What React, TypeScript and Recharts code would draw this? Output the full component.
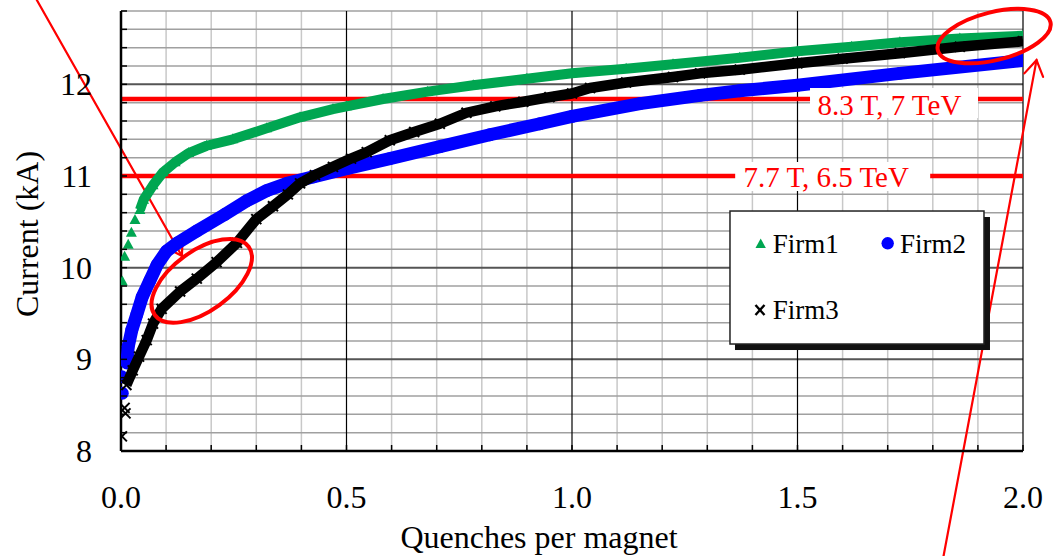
import React from 'react';
import {
  ScatterChart,
  Scatter,
  XAxis,
  YAxis,
  CartesianGrid,
  ReferenceLine,
  ReferenceDot,
} from 'recharts';

// ---------- data ----------
const seriesNames = ['Firm1', 'Firm2', 'Firm3'];

const firm1StartX = [0.003, 0.008, 0.016, 0.023, 0.031];
const firm1StartY = [9.85, 10.12, 10.25, 10.38, 10.52];
const firm1X = [0.042, 0.05, 0.071, 0.093, 0.12, 0.15, 0.19, 0.248, 0.323, 0.397, 0.47, 0.5, 0.581, 0.68, 0.781, 0.9, 1.0, 1.12, 1.224, 1.372, 1.5, 1.62, 1.727, 1.86, 2.0];
const firm1Y = [10.63, 10.74, 10.9, 11.04, 11.15, 11.25, 11.33, 11.4, 11.52, 11.64, 11.73, 11.76, 11.84, 11.92, 11.99, 12.06, 12.12, 12.17, 12.22, 12.29, 12.36, 12.41, 12.46, 12.5, 12.53];

const firm2StartX = [0.003, 0.002];
const firm2StartY = [8.63, 8.81];
const firm2X = [0.013, 0.016, 0.024, 0.035, 0.047, 0.064, 0.08, 0.101, 0.125, 0.168, 0.23, 0.279, 0.323, 0.368, 0.426, 0.5, 0.596, 0.707, 0.818, 0.929, 1.0, 1.151, 1.284, 1.372, 1.5, 1.727, 2.0];
const firm2Y = [8.96, 9.14, 9.32, 9.49, 9.68, 9.86, 10.03, 10.18, 10.27, 10.4, 10.58, 10.73, 10.84, 10.92, 10.99, 11.08, 11.19, 11.32, 11.45, 11.57, 11.65, 11.79, 11.88, 11.93, 11.99, 12.12, 12.26];

const firm3StartX = [0.002, 0.008, 0.01];
const firm3StartY = [8.16, 8.47, 8.41];
const firm3X = [0.012, 0.026, 0.04, 0.057, 0.071, 0.09, 0.131, 0.168, 0.212, 0.257, 0.3, 0.337, 0.37, 0.397, 0.43, 0.47, 0.51, 0.545, 0.596, 0.65, 0.707, 0.766, 0.83, 0.892, 0.95, 1.0, 1.04, 1.12, 1.224, 1.284, 1.372, 1.5, 1.6, 1.727, 1.86, 2.0];
const firm3Y = [8.72, 8.88, 9.03, 9.21, 9.39, 9.55, 9.74, 9.88, 10.06, 10.27, 10.53, 10.67, 10.8, 10.92, 11.01, 11.1, 11.19, 11.26, 11.39, 11.48, 11.57, 11.69, 11.76, 11.81, 11.86, 11.9, 11.96, 12.02, 12.08, 12.12, 12.16, 12.23, 12.28, 12.34, 12.41, 12.47];

const limitValues = [11.84, 11.0];
const limitLabels = ['8.3 T, 7 TeV', '7.7 T, 6.5 TeV'];

const xTicks = [0, 0.1, 0.2, 0.3, 0.4, 0.5, 0.6, 0.7, 0.8, 0.9, 1.0, 1.1, 1.2, 1.3, 1.4, 1.5, 1.6, 1.7, 1.8, 1.9, 2.0];
const xTickLabels = [0, 0.5, 1.0, 1.5, 2.0];
const yTicks = [8, 8.2, 8.4, 8.6, 8.8, 9, 9.2, 9.4, 9.6, 9.8, 10, 10.2, 10.4, 10.6, 10.8, 11, 11.2, 11.4, 11.6, 11.8, 12, 12.2, 12.4, 12.6, 12.8];
const yTickLabels = [8, 9, 10, 11, 12];

const xMinorGrid = [0.1, 0.2, 0.3, 0.4, 0.6, 0.7, 0.8, 0.9, 1.1, 1.2, 1.3, 1.4, 1.6, 1.7, 1.8, 1.9];
const xMajorGrid = [0.5, 1.0, 1.5, 2.0];
const yMinorGrid = [8.2, 8.4, 8.6, 8.8, 9.2, 9.4, 9.6, 9.8, 10.2, 10.4, 10.6, 10.8, 11.2, 11.4, 11.6, 11.8, 12.2, 12.4, 12.6, 12.8];
const yMajorGrid = [9, 10, 11, 12];

const toPoints = (xs: number[], ys: number[]) => xs.map((x, i) => ({ x, y: ys[i] }));

// ---------- styles ----------
const FONT = "'Liberation Serif', 'Times New Roman', serif";
const GREEN = '#00a651';
const BLUE = '#0000ff';
const BLACK = '#000000';
const RED = '#ff0000';

const near = (a: number, b: number) => Math.abs(a - b) < 1e-6;

const TriangleShape = (p: any) => {
  const { cx, cy } = p;
  if (cx == null || cy == null) return null;
  return <polygon points={`${cx},${cy - 6} ${cx - 5.5},${cy + 4} ${cx + 5.5},${cy + 4}`} fill={GREEN} />;
};
const CircleShape = (p: any) => {
  const { cx, cy } = p;
  if (cx == null || cy == null) return null;
  return <circle cx={cx} cy={cy} r={6.4} fill={BLUE} />;
};
const CrossShape = (p: any) => {
  const { cx, cy } = p;
  if (cx == null || cy == null) return null;
  const s = 5;
  return (
    <g stroke={BLACK} strokeWidth={2}>
      <line x1={cx - s} y1={cy - s} x2={cx + s} y2={cy + s} />
      <line x1={cx - s} y1={cy + s} x2={cx + s} y2={cy - s} />
    </g>
  );
};

const XTick = (p: any) => {
  const { x, y, payload } = p;
  const v = payload.value as number;
  const show = xTickLabels.some((t) => near(t, v));
  return (
    <g>
      <line x1={x} x2={x} y1={y} y2={y - 6} stroke="#000" strokeWidth={1.5} />
      {show && (
        <text x={x} y={y + 57} textAnchor="middle" fontSize={32} fontFamily={FONT} fill="#000">
          {v.toFixed(1)}
        </text>
      )}
    </g>
  );
};

const YTick = (p: any) => {
  const { x, y, payload } = p;
  const v = payload.value as number;
  const show = yTickLabels.some((t) => near(t, v));
  return (
    <g>
      <line x1={x} x2={x + 6} y1={y} y2={y} stroke="#000" strokeWidth={1.5} />
      {show && (
        <text x={x - 29} y={y + 11} textAnchor="end" fontSize={32} fontFamily={FONT} fill="#000">
          {String(v)}
        </text>
      )}
    </g>
  );
};

const XTitle = (p: any) => {
  const vb = p.viewBox || { x: 121, y: 451 };
  return (
    <text x={vb.x + 418} y={vb.y + 97} textAnchor="middle" fontSize={32} fontFamily={FONT} fill="#000">
      Quenches per magnet
    </text>
  );
};

const YTitle = (p: any) => {
  const vb = p.viewBox || { x: 61, y: 11, width: 60, height: 440 };
  const x = vb.x + (vb.width || 0) - 83;
  const y = vb.y + vb.height / 2 + 3;
  return (
    <text x={x} y={y} transform={`rotate(-90 ${x} ${y})`} textAnchor="middle" fontSize={32} fontFamily={FONT} fill="#000">
      Current (kA)
    </text>
  );
};

const ArrowShape = (p: any) => {
  const { x1, y1, x2, y2 } = p;
  if ([x1, y1, x2, y2].some((v) => v == null || isNaN(v))) return null;
  const ang = Math.atan2(y1 - y2, x1 - x2);
  const L = 18;
  const a = (32 * Math.PI) / 180;
  const w1x = x2 + L * Math.cos(ang + a);
  const w1y = y2 + L * Math.sin(ang + a);
  const w2x = x2 + L * Math.cos(ang - a);
  const w2y = y2 + L * Math.sin(ang - a);
  return (
    <g stroke={RED} strokeWidth={2.2} fill="none" strokeLinecap="round">
      <line x1={x1} y1={y1} x2={x2} y2={y2} />
      <polyline points={`${w1x},${w1y} ${x2},${y2} ${w2x},${w2y}`} />
    </g>
  );
};

const makeEllipse = (rx: number, ry: number, rot: number) => (p: any) => {
  const { cx, cy } = p;
  if (cx == null || cy == null) return null;
  return (
    <ellipse cx={cx} cy={cy} rx={rx} ry={ry} transform={`rotate(${rot} ${cx} ${cy})`} fill="none" stroke={RED} strokeWidth={4} />
  );
};

const makeLimitLabel = (text: string, halfW: number, top: number, bottom: number, dx: number, base: number) => (p: any) => {
  const { cx, cy } = p;
  if (cx == null || cy == null) return null;
  return (
    <g>
      <rect x={cx - halfW} y={cy - top} width={halfW * 2} height={top + bottom} fill="#ffffff" />
      <text x={cx + dx} y={cy + base} textAnchor="middle" fontSize={29} fontFamily={FONT} fill={RED}>
        {text}
      </text>
    </g>
  );
};

const LegendShape = (p: any) => {
  const { cx, cy } = p;
  if (cx == null || cy == null) return null;
  const x = cx;
  const y = cy;
  const w = 254;
  const h = 133;
  const fs = 27;
  return (
    <g>
      <rect x={x + 5} y={y + 6} width={w + 1} height={h} fill="#111" />
      <rect x={x} y={y} width={w} height={h} fill="#fff" stroke="#222" strokeWidth={1.5} />
      <polygon points={`${x + 30.7},${y + 27.5} ${x + 25.5},${y + 37} ${x + 35.9},${y + 37}`} fill={GREEN} />
      <text x={x + 42.7} y={y + 42.3} fontSize={fs} fontFamily={FONT} fill="#000">{seriesNames[0]}</text>
      <circle cx={x + 157.7} cy={y + 32.3} r={6.2} fill={BLUE} />
      <text x={x + 170} y={y + 42.3} fontSize={fs} fontFamily={FONT} fill="#000">{seriesNames[1]}</text>
      <g stroke="#000" strokeWidth={2.4}>
        <line x1={x + 25.5} y1={y + 94} x2={x + 34.5} y2={y + 104} />
        <line x1={x + 25.5} y1={y + 104} x2={x + 34.5} y2={y + 94} />
      </g>
      <text x={x + 42.7} y={y + 108} fontSize={fs} fontFamily={FONT} fill="#000">{seriesNames[2]}</text>
    </g>
  );
};

export default function App() {
  const f1s = toPoints(firm1StartX, firm1StartY);
  const f1 = toPoints(firm1X, firm1Y);
  const f2s = toPoints(firm2StartX, firm2StartY);
  const f2 = toPoints(firm2X, firm2Y);
  const f3s = toPoints(firm3StartX, firm3StartY);
  const f3 = toPoints(firm3X, firm3Y);

  // annotation anchors, in data units
  const arrow1 = [{ x: -0.189, y: 12.94 }, { x: 0.135, y: 10.127 }];
  const arrow2 = [{ x: 1.823, y: 6.833 }, { x: 2.03, y: 12.264 }];
  const ell1 = { x: 0.179, y: 9.856 };
  const ell2 = { x: 1.936, y: 12.526 };
  const legendAnchor = { x: 1.3503, y: 10.618 };
  const labelAnchors = [1.714, 1.578];

  return (
    <div style={{ position: 'absolute', left: 0, top: 0, width: 1054, height: 556, background: '#fff' }}>
      <ScatterChart width={1054} height={556} margin={{ top: 11, right: 31, bottom: 45, left: 61 }}>
        <CartesianGrid horizontal={false} verticalValues={xMinorGrid} stroke="#c8c8c8" strokeWidth={1.5} />
        <CartesianGrid vertical={false} horizontalValues={yMinorGrid} stroke="#a0a0a0" strokeWidth={1.5} />
        <CartesianGrid vertical={false} horizontalValues={yMajorGrid} stroke="#555555" strokeWidth={2} />
        <CartesianGrid horizontal={false} verticalValues={xMajorGrid} stroke="#000000" strokeWidth={1.2} />
        <XAxis
          type="number"
          dataKey="x"
          domain={[0, 2]}
          ticks={xTicks}
          interval={0}
          tick={XTick}
          tickLine={false}
          tickSize={0}
          tickMargin={0}
          height={60}
          axisLine={{ stroke: '#000', strokeWidth: 2.5 }}
          allowDataOverflow
          label={XTitle}
        />
        <YAxis
          type="number"
          dataKey="y"
          domain={[8, 12.8]}
          ticks={yTicks}
          interval={0}
          tick={YTick}
          tickLine={false}
          tickSize={0}
          tickMargin={0}
          width={60}
          axisLine={{ stroke: '#000', strokeWidth: 2.5 }}
          allowDataOverflow
          label={YTitle}
        />
        {limitValues.map((v, i) => (
          <ReferenceLine key={`lim${i}`} y={v} stroke={RED} strokeWidth={4.5} />
        ))}
        <Scatter name={seriesNames[0]} data={f1s} shape={TriangleShape} isAnimationActive={false} />
        <Scatter
          name={`${seriesNames[0]} band`}
          data={f1}
          shape={TriangleShape}
          line={{ stroke: GREEN, strokeWidth: 10, strokeLinejoin: 'round' }}
          lineType="joint"
          legendType="none"
          isAnimationActive={false}
        />
        <Scatter name={seriesNames[1]} data={f2s} shape={CircleShape} isAnimationActive={false} />
        <Scatter
          name={`${seriesNames[1]} band`}
          data={f2}
          shape={CircleShape}
          line={{ stroke: BLUE, strokeWidth: 13, strokeLinejoin: 'round' }}
          lineType="joint"
          legendType="none"
          isAnimationActive={false}
        />
        <Scatter name={seriesNames[2]} data={f3s} shape={CrossShape} isAnimationActive={false} />
        <Scatter
          name={`${seriesNames[2]} band`}
          data={f3}
          shape={CrossShape}
          line={{ stroke: BLACK, strokeWidth: 10.5, strokeLinejoin: 'round' }}
          lineType="joint"
          legendType="none"
          isAnimationActive={false}
        />
        <ReferenceDot
          x={labelAnchors[0]}
          y={limitValues[0]}
          ifOverflow="visible"
          shape={makeLimitLabel(limitLabels[0], 84, 11, 19, -4.5, 16)}
        />
        <ReferenceDot
          x={labelAnchors[1]}
          y={limitValues[1]}
          ifOverflow="visible"
          shape={makeLimitLabel(limitLabels[1], 97.5, 14, 15, -6.5, 11)}
        />
        <ReferenceDot x={legendAnchor.x} y={legendAnchor.y} ifOverflow="visible" shape={LegendShape} />
        <ReferenceDot x={ell1.x} y={ell1.y} ifOverflow="visible" shape={makeEllipse(58, 30, -36)} />
        <ReferenceDot x={ell2.x} y={ell2.y} ifOverflow="visible" shape={makeEllipse(58, 24, -14)} />
        <ReferenceLine segment={arrow1} ifOverflow="visible" shape={ArrowShape} />
        <ReferenceLine segment={arrow2} ifOverflow="visible" shape={ArrowShape} />
      </ScatterChart>
    </div>
  );
}
